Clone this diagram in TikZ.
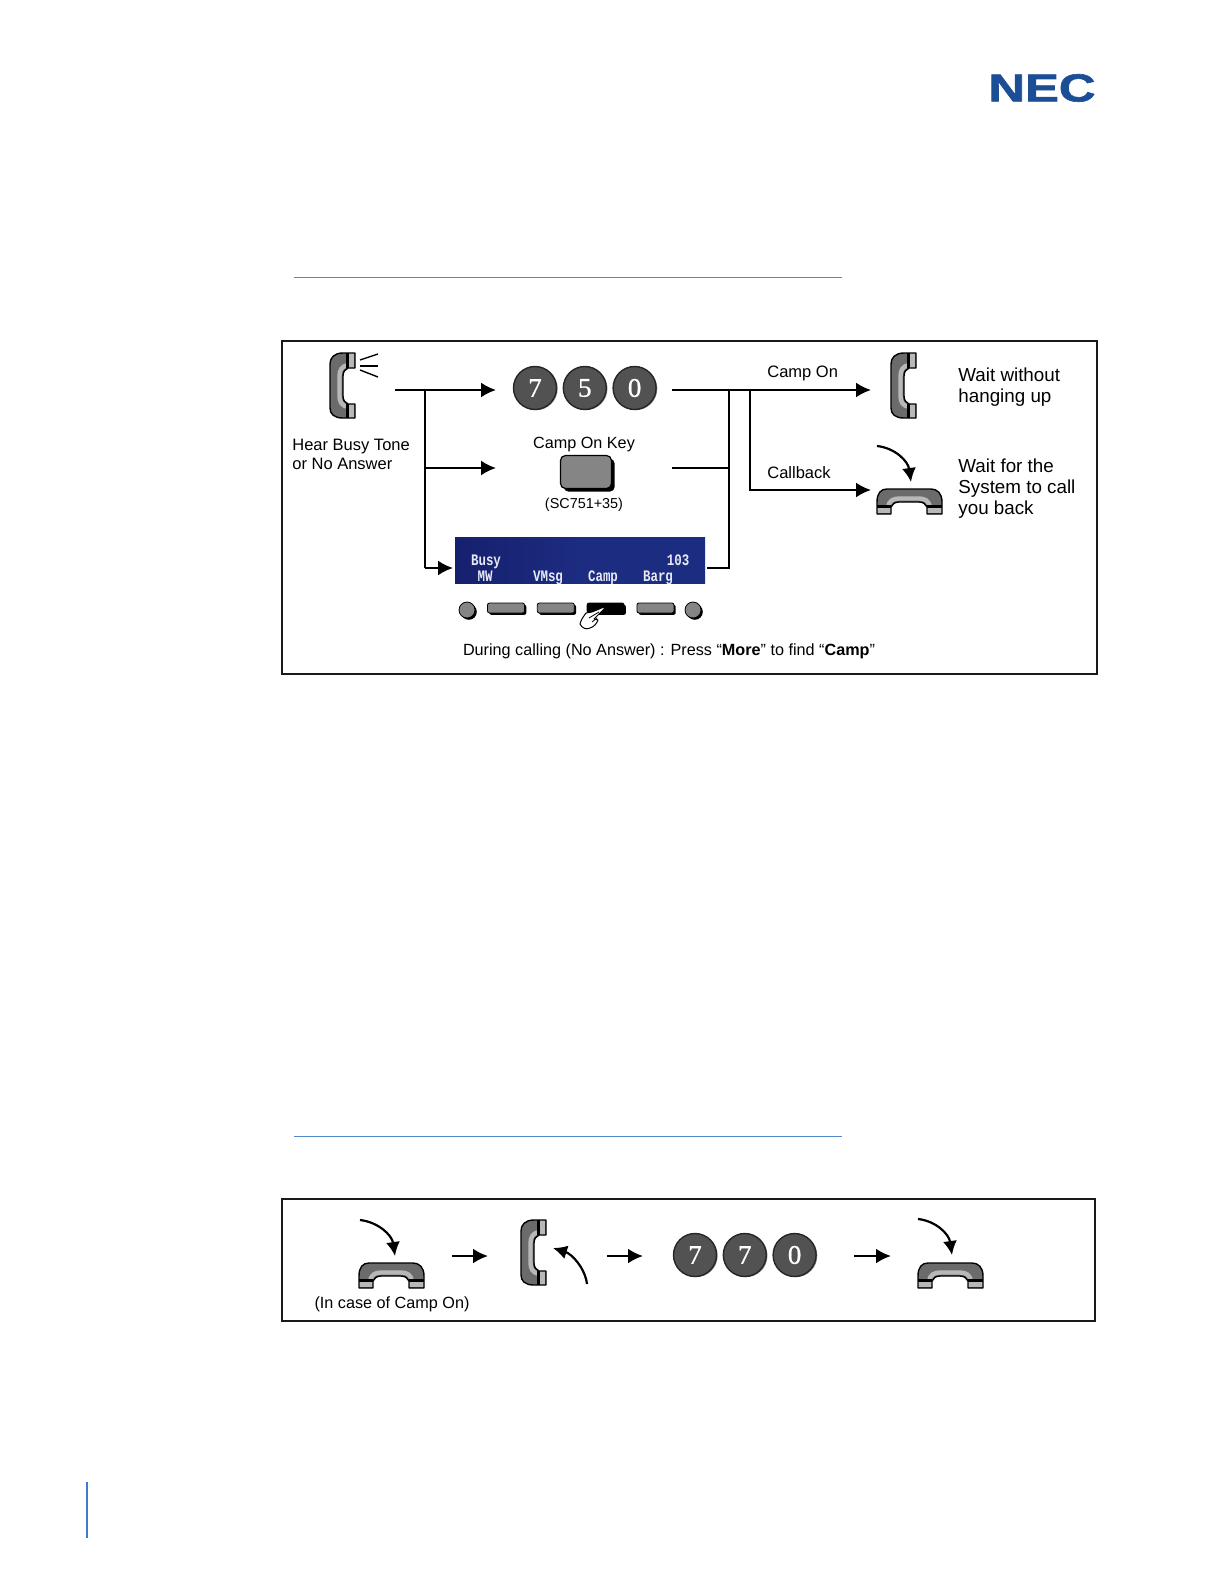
\documentclass[tikz,border=0pt]{standalone}
\usepackage{fontspec}
\setmainfont{Liberation Sans}
\newfontfamily\digitfont[FakeBold=0.8]{Liberation Serif}
\newfontfamily\lcdfont{Liberation Mono}
\newfontfamily\logofont[FakeBold=1.6]{Liberation Sans Bold}
\usetikzlibrary{positioning, arrows.meta, shadows}

\definecolor{necBlue}{HTML}{1C4E96}
\definecolor{ruleBlue}{HTML}{4F8BCB}
\definecolor{barBlue}{HTML}{3B7BD0}
\definecolor{lcdLeft}{HTML}{16206E}
\definecolor{lcdRight}{HTML}{1C2C80}
\definecolor{lcdText}{HTML}{E6EAF5}

\begin{document}
\begin{tikzpicture}[
    x=0.5pt,
    y=-0.5pt,
    font=\fontsize{8.25}{10.2}\selectfont,
    frameBox/.style={
        draw=black!90,
        line width=1pt
    },
    ruleLine/.style={
        draw=ruleBlue,
        line width=0.5pt
    },
    line/.style={
        draw,
        line width=1.15pt,
        -{Latex[length=7.5pt, width=7.5pt]}
    },
    plainLine/.style={
        draw,
        line width=0.9pt
    },
    dropLine/.style={
        draw,
        line width=1.1pt,
        -{Latex[length=7pt, width=7pt]}
    },
    label/.style={
        anchor=west,
        align=left,
        inner sep=0pt
    },
    waitLabel/.style={
        label,
        font=\fontsize{9.4}{10.5}\selectfont
    },
    dialKey/.style={
        circle,
        draw=black!85,
        line width=0.7pt,
        fill=black!68,
        minimum size=21.5pt,
        inner sep=0pt,
        text=white,
        font=\digitfont\fontsize{13.5}{13.5}\selectfont,
        drop shadow={shadow xshift=0.6pt, shadow yshift=-0.3pt, fill=black!45, opacity=1}
    },
    softKey/.style={
        draw=black,
        line width=0.4pt,
        rounded corners=1pt,
        fill=black!48,
        minimum width=18.5pt,
        minimum height=5pt,
        inner sep=0pt,
        drop shadow={shadow xshift=0.9pt, shadow yshift=-0.9pt, fill=black, opacity=1}
    },
    softLamp/.style={
        circle,
        softKey,
        rounded corners=0pt,
        minimum width=8pt,
        minimum height=8pt
    },
    lcdLabel/.style={
        anchor=base,
        text=lcdText,
        inner sep=0pt,
        xscale=0.78,
        transform shape,
        font=\lcdfont\bfseries\fontsize{8}{8}\selectfont
    },
    pics/handset/.style={
        code={
            \fill[black!58]
                (13,-33) -- (1,-33) .. controls (-8,-33) and (-12,-28) .. (-12,-22)
                -- (-12,22) .. controls (-12,28) and (-8,32) .. (1,32) -- (13,32)
                -- (13,18) -- (6,18) .. controls (3,17) and (1,14) .. (1,10)
                -- (1,-10) .. controls (1,-14) and (3,-17) .. (6,-18)
                -- (13,-18) -- cycle;
            \draw[black!28, line width=2.2pt]
                (6,-21) .. controls (0,-20) and (-2.5,-16) .. (-2.5,-10)
                -- (-2.5,10) .. controls (-2.5,16) and (0,20) .. (6,21);
            \fill[black!28] (6,-33) rectangle (12,-18);
            \fill[black!28] (6,18) rectangle (12,32);
            \fill[black] (3.5,-33) rectangle (6.5,-18);
            \fill[black] (3.5,18) rectangle (6.5,32);
            \draw[black, line width=0.7pt, line join=round]
                (13,-33) -- (1,-33) .. controls (-8,-33) and (-12,-28) .. (-12,-22)
                -- (-12,22) .. controls (-12,28) and (-8,32) .. (1,32) -- (13,32)
                -- (13,18) -- (6,18) .. controls (3,17) and (1,14) .. (1,10)
                -- (1,-10) .. controls (1,-14) and (3,-17) .. (6,-18)
                -- (13,-18) -- cycle;
        }
    }
]
\useasboundingbox (0,0) rectangle (1224,1584);

% --- Page furniture ---
\node[inner sep=0pt, text=necBlue, xscale=1.3, transform shape,
    font=\logofont\fontsize{19.5}{19.5}\selectfont] (necLogo) at (1042,88) {NEC};
\coordinate (ruleOneA) at (294,277);
\coordinate (ruleOneB) at (842,277);
\coordinate (ruleTwoA) at (294,1136);
\coordinate (ruleTwoB) at (842,1136);
\coordinate (barTop) at (87,1482);
\coordinate (barBottom) at (87,1538);
\draw[ruleLine] (ruleOneA) -- (ruleOneB);
\draw[ruleLine] (ruleTwoA) -- (ruleTwoB);
\draw[barBlue, line width=1.4pt] (barTop) -- (barBottom);

% --- Upper frame ---
\draw[frameBox] (282,341) rectangle (1097,674);

% --- Busy tone (left) ---
\pic at (342,386) {handset};
\coordinate (toneUpA) at (360,360);
\coordinate (toneUpB) at (378,354);
\coordinate (toneMidA) at (360,366);
\coordinate (toneMidB) at (378,366);
\coordinate (toneLowA) at (360,370);
\coordinate (toneLowB) at (378,377);
\draw[line width=0.7pt] (toneUpA) -- (toneUpB);
\draw[line width=0.9pt] (toneMidA) -- (toneMidB);
\draw[line width=0.7pt] (toneLowA) -- (toneLowB);
\node[label, font=\fontsize{8.25}{9.4}\selectfont] (busyText) at (292,454) {Hear Busy Tone\\or No Answer};

% --- Dial keys ---
\node[dialKey] (keySeven) at (535,388) {7};
\node[dialKey, right=2.7pt of keySeven] (keyFive) {5};
\node[dialKey, right=2.7pt of keyFive] (keyZero) {0};

% --- Camp On key ---
\node[inner sep=0pt, font=\fontsize{8.1}{10}\selectfont] (campKeyText) at (584,445) {Camp On Key};
\node[draw=black, line width=0.6pt, fill=black!48, rounded corners=2.5pt,
    minimum width=25.5pt, minimum height=16.5pt, inner sep=0pt,
    drop shadow={shadow xshift=1.6pt, shadow yshift=-1.6pt, fill=black, opacity=1}] (campKey) at (586,472) {};
\node[inner sep=0pt, font=\fontsize{7.2}{9}\selectfont] (campCode) at (584,505) {(SC751+35)};

% --- Display and soft keys ---
\node[inner sep=0pt, minimum width=125pt, minimum height=23pt,
    left color=lcdLeft, right color=lcdRight, middle color=lcdRight] (lcd) at (580,560) {};
\begin{scope}
    \clip (lcd.south west) rectangle (lcd.north east);
    \node[lcdLabel] (lcdBusy) at (486,565) {Busy};
    \node[lcdLabel] (lcdNum) at (678,565) {103};
    \node[lcdLabel] (lcdMw) at (485,581) {MW};
    \node[lcdLabel] (lcdVmsg) at (548,581) {VMsg};
    \node[lcdLabel] (lcdCamp) at (603,581) {Camp};
    \node[lcdLabel] (lcdBarg) at (658,581) {Barg};
\end{scope}

\node[softLamp] (lampLeft) at (467,610) {};
\node[softKey] (softOne) at (506,608) {};
\node[softKey, right=6pt of softOne] (softTwo) {};
\node[softKey, right=6pt of softTwo, fill=black] (softThree) {};
\node[softKey, right=6pt of softThree] (softFour) {};
\node[softLamp] (lampRight) at (693,610) {};

% Pressing hand
\fill[white, draw=black, line width=0.5pt, line join=round]
    (604,607) -- (592,612) -- (586,613) .. controls (583,617) and (581,620) .. (580,624)
    .. controls (582,628) and (586,630) .. (590,628)
    .. controls (594,627) and (597,623) .. (598,620)
    -- (594,619) -- (604,609) -- cycle;
\draw[black, line width=0.4pt] (589,618) -- (599,612) (592,622) -- (597,618);

\node[inner sep=0pt, font=\fontsize{8.1}{10}\selectfont] (duringText) at (669,651)
    {During calling (No Answer) : Press “\textbf{More}” to find “\textbf{Camp}”};

% --- Outcomes (right) ---
\pic at (903,386) {handset};
\pic[rotate=-90] at (909,501) {handset};
\node[label] (campOnText) at (767,373.5) {Camp On};
\node[label] (callbackText) at (767,473) {Callback};
\node[waitLabel] (waitText) at (958,387) {Wait without\\hanging up};
\node[waitLabel] (systemText) at (958,489) {Wait for the\\System to call\\you back};

% --- Connections ---
\coordinate (toneOut) at (395,390);
\coordinate (branchTop) at (425,390);
\coordinate (branchMid) at (425,468);
\coordinate (branchLow) at (425,568);
\coordinate (keyIn) at (496,390);
\coordinate (campIn) at (496,468);
\coordinate (lcdIn) at (453,568);
\coordinate (keyOut) at (672,390);
\coordinate (campOut) at (672,468);
\coordinate (lcdOut) at (707,568);
\coordinate (mergeTop) at (729,390);
\coordinate (mergeMid) at (729,468);
\coordinate (mergeLow) at (729,568);
\coordinate (splitTop) at (750,390);
\coordinate (splitLow) at (750,490);
\coordinate (waitIn) at (871,390);
\coordinate (hangIn) at (871,490);

\draw[line] (toneOut) -- (keyIn);
\draw[plainLine] (branchTop) -- (branchLow);
\draw[line] (branchMid) -- (campIn);
\draw[line] (branchLow) -- (lcdIn);

\draw[line] (keyOut) -- (waitIn);
\draw[plainLine] (campOut) -- (mergeMid);
\draw[plainLine] (mergeTop) -- (mergeLow) -- (lcdOut);
\draw[line] (splitTop) |- (hangIn);

% Hang up drop
\coordinate (dropA) at (877,446);
\coordinate (dropB) at (911,482);
\draw[dropLine] (dropA) .. controls (895,448) and (908,461) .. (dropB);

% --- Lower frame ---
\draw[frameBox] (282,1199) rectangle (1095,1321);

\pic[rotate=-90] at (391,1275) {handset};
\node[inner sep=0pt, font=\fontsize{8.1}{10}\selectfont] (caseText) at (392,1304) {(In case of Camp On)};
\pic at (533,1253) {handset};
\node[dialKey] (backSeven) at (695,1255) {7};
\node[dialKey, right=2.7pt of backSeven] (backSevenB) {7};
\node[dialKey, right=2.7pt of backSevenB] (backZero) {0};
\pic[rotate=-90] at (950,1275) {handset};

\coordinate (stepOneA) at (452,1256);
\coordinate (stepOneB) at (488,1256);
\coordinate (stepTwoA) at (607,1256);
\coordinate (stepTwoB) at (643,1256);
\coordinate (stepThreeA) at (854,1256);
\coordinate (stepThreeB) at (891,1256);
\draw[line] (stepOneA) -- (stepOneB);
\draw[line] (stepTwoA) -- (stepTwoB);
\draw[line] (stepThreeA) -- (stepThreeB);

\coordinate (dropC) at (360,1220);
\coordinate (dropD) at (395,1256);
\coordinate (liftA) at (587,1284);
\coordinate (liftB) at (553,1248);
\coordinate (dropE) at (918,1219);
\coordinate (dropF) at (952,1255);
\draw[dropLine] (dropC) .. controls (378,1222) and (392,1235) .. (dropD);
\draw[dropLine] (liftA) .. controls (585,1268) and (572,1254) .. (liftB);
\draw[dropLine] (dropE) .. controls (936,1221) and (949,1234) .. (dropF);

\end{tikzpicture}
\end{document}
